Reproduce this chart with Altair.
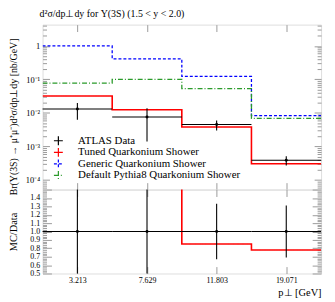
import altair as alt
import pandas as pd

# ---------------- data ----------------
bin_labels = ["3.213", "7.629", "11.803", "19.071"]
bin_lo = [0, 1, 2, 3]
bin_hi = [1, 2, 3, 4]
bin_center = [0.5, 1.5, 2.5, 3.5]

data_vals = [0.0131, 0.0076, 0.0045, 0.00039]
data_errs = [0.0068, 0.0062, 0.00149, 0.000121]
tuned_vals = [0.032, 0.0125, 0.00383, 0.000304]
generic_vals = [1.0, 0.41, 0.123, 0.0083]
default_vals = [0.078, 0.10, 0.053, 0.0069]

series_names = ["ATLAS Data", "Tuned Quarkonium Shower",
                "Generic Quarkonium Shower", "Default Pythia8 Quarkonium Shower"]
series_colors = ["#000000", "#ff0000", "#0000ff", "#2a9a2a"]
series_dash = [[1, 0], [1, 0], [3, 2], [5, 2, 1, 2]]

main_tick_values = [1e-4, 1e-3, 1e-2, 1e-1, 1.0]
main_tick_labels = ["10⁻⁴", "10⁻³", "10⁻²", "10⁻¹", "1"]
ratio_label_values = [0.5, 0.6, 0.7, 0.8, 0.9, 1.0, 1.1, 1.2, 1.3, 1.4]

title_text = "d²σ/dp⊥dy for Υ(3S) (1.5 < y < 2.0)"
ytitle_main = "Br(Υ(3S) → μ⁺μ⁻)d²σ/dp⊥dy [nb/GeV]"
ytitle_ratio = "MC/Data"
xtitle = "p⊥ [GeV]"

# ---------------- setup ----------------
FONT = "Liberation Serif"
W, H1, H2 = 282, 167, 85
GREY = "#9a9a9a"
YMIN, YMAX = 5.2e-5, 4.3

xs = alt.Scale(domain=[0, 4], nice=False, zero=False)
ys_main = alt.Scale(type="log", domain=[YMIN, YMAX], nice=False)
ys_ratio = alt.Scale(domain=[0.5, 1.5], nice=False, zero=False)

main_minor = [m * 10.0 ** e for e in range(-5, 1) for m in range(1, 10)
              if YMIN <= m * 10.0 ** e <= YMAX]
ratio_ticks = [round(0.5 + 0.02 * i, 2) for i in range(51)]

LOG_MAJOR = "abs(log(datum.value)/LN10 - round(log(datum.value)/LN10)) < 0.01"
LIN_MAJOR = "abs(datum.value*10 - round(datum.value*10)) < 0.01"


def tick_axis(orient, offset, values, size, test=None, minor=None):
    ts = size if test is None else {"condition": {"test": test, "value": size}, "value": minor}
    return alt.Axis(orient=orient, offset=offset, values=values, labels=False,
                    domain=False, grid=False, title=None, tickColor=GREY,
                    tickWidth=1, tickSize=ts)


def axis_layer(yval, yscale, xaxis, yaxis):
    df = pd.DataFrame({"x": [0.5], "y": [yval]})
    return alt.Chart(df).mark_point(opacity=0).encode(
        x=alt.X("x:Q", scale=xs, axis=xaxis),
        y=alt.Y("y:Q", scale=yscale, axis=yaxis))


def step_line(vals, color, dash, width, yscale):
    df = pd.DataFrame({"x": bin_lo + [bin_hi[-1]], "y": list(vals) + [vals[-1]]})
    return alt.Chart(df).mark_line(interpolate="step-after", color=color,
                                   strokeDash=dash, strokeWidth=width, clip=True).encode(
        x=alt.X("x:Q", scale=xs, axis=None),
        y=alt.Y("y:Q", scale=yscale, axis=None))


def label_expr(values, labels):
    expr = "''"
    for v, l in zip(values, labels):
        expr = f"abs(datum.value - {v}) < {abs(v) * 1e-3 + 1e-9} ? '{l}' : " + expr
    return expr


# ---------------- main panel ----------------
df_data = pd.DataFrame({
    "lo": bin_lo, "hi": bin_hi, "c": bin_center, "v": data_vals,
    "vlo": [v - e for v, e in zip(data_vals, data_errs)],
    "vhi": [v + e for v, e in zip(data_vals, data_errs)],
})

data_h = alt.Chart(df_data).mark_rule(color="black", strokeWidth=1.1).encode(
    x=alt.X("lo:Q", scale=xs, axis=None), x2="hi:Q",
    y=alt.Y("v:Q", scale=ys_main, axis=None))
data_v = alt.Chart(df_data).mark_rule(color="black", strokeWidth=1.1, clip=True).encode(
    x=alt.X("c:Q", scale=xs, axis=None),
    y=alt.Y("vlo:Q", scale=ys_main, axis=None), y2="vhi:Q")
data_p = alt.Chart(df_data).mark_circle(color="black", size=9, opacity=1).encode(
    x=alt.X("c:Q", scale=xs, axis=None),
    y=alt.Y("v:Q", scale=ys_main, axis=None))

main_label_axis = alt.Axis(
    orient="left", values=main_tick_values,
    labelExpr=label_expr(main_tick_values, main_tick_labels),
    ticks=False, domain=False, grid=False, labelPadding=3,
    labelFont=FONT, labelFontSize=8.5, labelColor="black",
    title=ytitle_main, titleFont=FONT, titleFontSize=10, titleFontWeight="normal",
    titleColor="black", titleX=-29, titleY=93, titleBaseline="middle")

main_axes = [
    axis_layer(0.01, ys_main, tick_axis("bottom", -H1, bin_center, 7), main_label_axis),
    axis_layer(0.01, ys_main, tick_axis("top", -H1, bin_center, 7),
               tick_axis("right", -W, main_minor, 7, LOG_MAJOR, 4)),
    axis_layer(0.01, ys_main, None, tick_axis("left", -W, main_minor, 7, LOG_MAJOR, 4)),
]

# legend
legend_layers = []
LX, LTX, LY0, LDY = 16, 36, 117.6, 11.7
for i, (name, col, dash) in enumerate(zip(series_names, series_colors, series_dash)):
    yc = LY0 + i * LDY
    one = pd.DataFrame({"t": [name]})
    legend_layers.append(alt.Chart(one).mark_rule(color=col, strokeWidth=1.2, strokeDash=dash).encode(
        x=alt.value(LX - 4.5), x2=alt.value(LX + 4.5), y=alt.value(yc)))
    legend_layers.append(alt.Chart(one).mark_rule(color=col, strokeWidth=1.2, strokeDash=dash).encode(
        x=alt.value(LX), y=alt.value(yc - 4.5), y2=alt.value(yc + 4.5)))
    legend_layers.append(alt.Chart(one).mark_text(
        align="left", baseline="middle", font=FONT, fontSize=11, color="black").encode(
        x=alt.value(LTX), y=alt.value(yc), text="t:N"))

main = alt.layer(
    *main_axes,
    step_line(generic_vals, series_colors[2], series_dash[2], 1.3, ys_main),
    step_line(default_vals, series_colors[3], series_dash[3], 1.3, ys_main),
    step_line(tuned_vals, series_colors[1], series_dash[1], 1.6, ys_main),
    data_h, data_v, data_p,
    *legend_layers,
).resolve_axis(x="independent", y="independent").properties(
    width=W, height=H1,
    title=alt.TitleParams(text=title_text, anchor="start", frame="group", font=FONT,
                          fontSize=10, fontWeight="normal", color="black", offset=5.5, dx=-3))

# ---------------- ratio panel ----------------
df_ratio = pd.DataFrame({
    "lo": bin_lo, "hi": bin_hi, "c": bin_center, "one": [1.0] * 4,
    "rlo": [1 - e / v for v, e in zip(data_vals, data_errs)],
    "rhi": [1 + e / v for v, e in zip(data_vals, data_errs)],
})
ratio_tuned = [t / d for t, d in zip(tuned_vals, data_vals)]

r_h = alt.Chart(df_ratio).mark_rule(color="black", strokeWidth=1.1).encode(
    x=alt.X("lo:Q", scale=xs, axis=None), x2="hi:Q",
    y=alt.Y("one:Q", scale=ys_ratio, axis=None))
r_v = alt.Chart(df_ratio).mark_rule(color="black", strokeWidth=1.1, clip=True).encode(
    x=alt.X("c:Q", scale=xs, axis=None),
    y=alt.Y("rlo:Q", scale=ys_ratio, axis=None), y2="rhi:Q")
r_p = alt.Chart(df_ratio).mark_circle(color="black", size=9, opacity=1).encode(
    x=alt.X("c:Q", scale=xs, axis=None),
    y=alt.Y("one:Q", scale=ys_ratio, axis=None))

ratio_label_y = alt.Axis(
    orient="left", values=ratio_label_values, format=".1f",
    ticks=False, domain=False, grid=False, labelPadding=3,
    labelFont=FONT, labelFontSize=8, labelColor="black",
    title=ytitle_ratio, titleFont=FONT, titleFontSize=10.5, titleFontWeight="normal",
    titleColor="black", titleX=-29, titleY=H2 / 2, titleBaseline="middle")
ratio_label_x = alt.Axis(
    orient="bottom", values=bin_center,
    labelExpr=label_expr(bin_center, bin_labels),
    ticks=False, domain=False, grid=False, labelPadding=3,
    labelFont=FONT, labelFontSize=8, labelColor="black",
    title=xtitle, titleFont=FONT, titleFontSize=10.5, titleFontWeight="normal",
    titleColor="black", titleX=W, titleY=22, titleAlign="right",
    titleBaseline="alphabetic")

ratio_axes = [
    axis_layer(1.0, ys_ratio, ratio_label_x, ratio_label_y),
    axis_layer(1.0, ys_ratio, tick_axis("top", -H2, bin_center, 7),
               tick_axis("right", -W, ratio_ticks, 9, LIN_MAJOR, 4)),
    axis_layer(1.0, ys_ratio, tick_axis("bottom", -H2, bin_center, 7),
               tick_axis("left", -W, ratio_ticks, 9, LIN_MAJOR, 4)),
]

ratio = alt.layer(
    *ratio_axes,
    step_line(ratio_tuned, series_colors[1], series_dash[1], 1.6, ys_ratio),
    r_h, r_v, r_p,
).resolve_axis(x="independent", y="independent").properties(width=W, height=H2)

chart = alt.vconcat(main, ratio, spacing=0, bounds="flush").properties(
    padding={"left": 0, "top": -2, "right": 4, "bottom": 0}
).configure_view(stroke="black", strokeWidth=1).configure(font=FONT)

chart.save("out.html", embed_options={"renderer": "svg", "actions": False})
